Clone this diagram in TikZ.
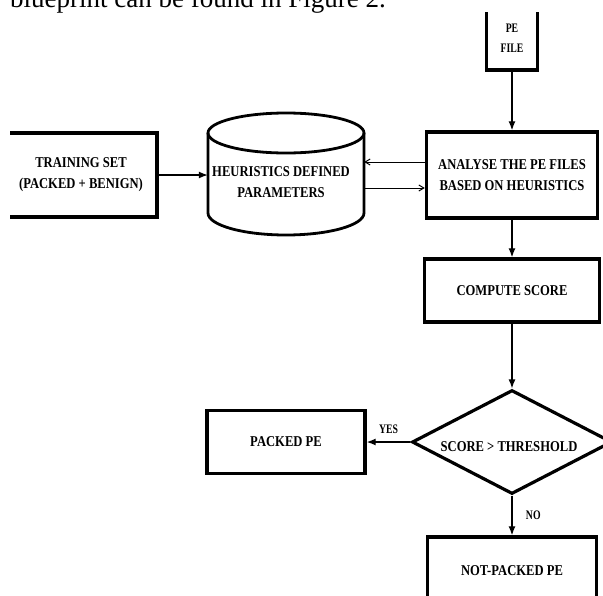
\documentclass[tikz,border=0pt]{standalone}
\usepackage{fontspec}
\setmainfont{Liberation Serif}
\newfontfamily\flowfont[FakeStretch=0.84]{Liberation Serif}
\newfontfamily\tagfont[FakeStretch=0.75]{Liberation Serif}
\usetikzlibrary{shapes.geometric,arrows.meta}
\newcommand{\boxtext}{\flowfont\bfseries\fontsize{15}{21}\selectfont}
\newcommand{\smalltext}{\tagfont\bfseries\fontsize{13}{20}\selectfont}
\tikzset{
	flowbox/.style={draw, line width=3.4pt, rectangle, inner sep=0pt, align=center, font=\boxtext},
	decision/.style={draw, line width=3.2pt, diamond, aspect=1.9, inner sep=0pt},
	cylline/.style={draw, line width=2.8pt},
	flow/.style={->, line width=1.3pt},
	backflow/.style={-{Straight Barb[length=5pt,width=6pt]}, line width=1pt}
}

\begin{document}
\begin{tikzpicture}[auto,x=1pt,y=-1pt,>={Latex[length=9pt,width=7pt]}]
	\useasboundingbox (0,0) rectangle (603,595);
	\clip (0,0) rectangle (603,595);
	% page text above the figure
	\node [anchor=base west, inner sep=0pt, font=\fontsize{27}{30}\selectfont] (caption) at (10,7) {blueprint can be found in Figure 2.};
	% boxes cut at the figure edge
	\begin{scope}
		\clip (10,12) rectangle (603,595);
		\node [flowbox, minimum width=51pt, minimum height=70pt] (pefile) at (512,35) {};
		\node [flowbox, minimum width=152pt, minimum height=84pt] (training) at (81,175) {TRAINING SET\\(PACKED + BENIGN)};
	\end{scope}
	\node [font=\smalltext, align=center] (pefile-t) at (512,38) {PE\\FILE};
	% cylinder
	\node [minimum width=156pt, minimum height=80pt, inner sep=0pt] (heur) at (286,175) {};
	\draw [cylline] (286,133) ellipse [x radius=78pt, y radius=20pt];
	\draw [cylline] (208,133) -- (208,213) arc [start angle=180, end angle=360, x radius=78pt, y radius=22pt] -- (364,133);
	\node [font=\boxtext, align=center] (heur-t) at (281,182) {HEURISTICS DEFINED\\PARAMETERS};
	\node [flowbox, minimum width=171pt, minimum height=86pt] (analyse) at (512,175) {ANALYSE THE PE FILES\\BASED ON HEURISTICS};
	\node [flowbox, minimum width=175pt, minimum height=63pt] (compute) at (512,290.5) {COMPUTE SCORE};
	\node [decision, minimum width=200pt, minimum height=104pt] (score) at (512,442) {};
	\node [font=\boxtext] (score-t) at (509,447) {SCORE > THRESHOLD};
	\node [flowbox, minimum width=158pt, minimum height=63pt] (packed) at (286,442) {PACKED PE};
	\node [flowbox, minimum width=169pt, minimum height=68pt] (notpacked) at (512,571) {NOT-PACKED PE};
	% connectors
	\draw [flow] (pefile) -- (analyse);
	\draw [flow] (training) -- (heur);
	\draw [backflow] ([yshift=13pt]analyse.west) -- ([yshift=13pt]heur.east);
	\draw [backflow] ([yshift=-13pt]heur.east) -- ([yshift=-13pt]analyse.west);
	\draw [flow] (analyse) -- (compute);
	\draw [flow] (compute) -- (score);
	\draw [flow] (score) -- node [above=4pt, font=\smalltext] (yes) {YES} (packed);
	\draw [flow] (score) -- node [right=10pt, font=\smalltext] (no) {NO} (notpacked);
\end{tikzpicture}
\end{document}
